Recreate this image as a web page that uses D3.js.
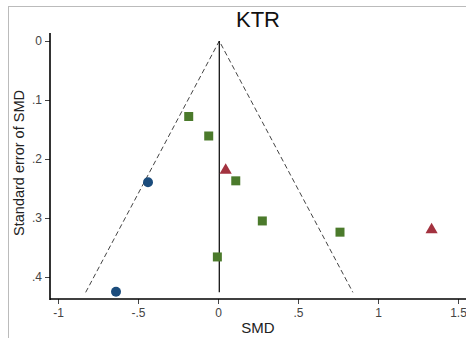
<!DOCTYPE html>
<html><head><meta charset="utf-8">
<script src="https://cdn.jsdelivr.net/npm/d3@7"></script>
<style>body{margin:0;background:#fff}svg{display:block}text{font-family:"Liberation Sans",Arial,sans-serif}</style>
</head><body>
<script>
const title = "KTR";
const xTicks = [-1, -0.5, 0, 0.5, 1, 1.5];
const xTickLabels = ["-1", "-.5", "0", ".5", "1", "1.5"];
const yTicks = [0, 0.1, 0.2, 0.3, 0.4];
const yTickLabels = ["0", ".1", ".2", ".3", ".4"];
const pooled = 0.008;
const maxSE = 0.426;
const squaresSMD = [-0.183, -0.058, 0.111, 0.277, 0.7625, -0.004];
const squaresSE  = [0.128, 0.161, 0.237, 0.305, 0.324, 0.366];
const trianglesSMD = [0.048, 1.335];
const trianglesSE  = [0.219, 0.320];
const circlesSMD = [-0.4375, -0.6375];
const circlesSE  = [0.2395, 0.425];

const W = 466, H = 338;
const svg = d3.select("body").append("svg").attr("width", W).attr("height", H);

// outer frame
svg.append("line").attr("x1", 8).attr("x2", W).attr("y1", 6.5).attr("y2", 6.5).attr("stroke", "#bbb");
svg.append("line").attr("x1", 8.5).attr("x2", 8.5).attr("y1", 6).attr("y2", H).attr("stroke", "#bbb");

const x = d3.scaleLinear().domain([0, 1]).range([218, 378]);
const y = d3.scaleLinear().domain([0, 0.1]).range([41, 100]);

// x axis
const gx = svg.append("g").attr("transform", "translate(0,299)")
  .call(d3.axisBottom(x).tickValues(xTicks).tickFormat((d, i) => xTickLabels[i]).tickSize(5).tickSizeOuter(0));
gx.select(".domain").remove();
gx.append("line").attr("x1", 50).attr("x2", W).attr("stroke", "#000").attr("stroke-width", 1.6);
gx.selectAll(".tick line").attr("stroke", "#444");
gx.selectAll(".tick text").attr("font-size", 12).attr("fill", "#444").attr("dy", "0.8em");

// y axis
const gy = svg.append("g").attr("transform", "translate(50,0)")
  .call(d3.axisLeft(y).tickValues(yTicks).tickFormat((d, i) => yTickLabels[i]).tickSize(5).tickSizeOuter(0));
gy.select(".domain").remove();
gy.append("line").attr("y1", 33).attr("y2", 300).attr("stroke", "#000").attr("stroke-width", 1.6);
gy.selectAll(".tick line").attr("stroke", "#444");
gy.selectAll(".tick text").attr("font-size", 12).attr("fill", "#444");

// funnel
const funnel = [[pooled - 1.96 * maxSE, maxSE], [pooled, 0], [pooled + 1.96 * maxSE, maxSE]];
svg.append("path")
  .attr("d", d3.line().x(d => x(d[0])).y(d => y(d[1]))(funnel))
  .attr("fill", "none").attr("stroke", "#444").attr("stroke-width", 1).attr("stroke-dasharray", "5,3");
svg.append("line").attr("x1", x(pooled)).attr("x2", x(pooled)).attr("y1", y(0)).attr("y2", y(maxSE))
  .attr("stroke", "#000").attr("stroke-width", 1.2);

// points
const sq = d3.symbol().type(d3.symbolSquare).size(81);
svg.selectAll(".sq").data(squaresSMD).enter().append("path")
  .attr("d", sq).attr("transform", (d, i) => `translate(${x(d)},${y(squaresSE[i])})`)
  .attr("fill", "#4b7a2b");
const tri = d3.symbol().type(d3.symbolTriangle).size(64);
svg.selectAll(".tri").data(trianglesSMD).enter().append("path")
  .attr("d", tri).attr("transform", (d, i) => `translate(${x(d)},${y(trianglesSE[i])})`)
  .attr("fill", "#a3323f");
svg.selectAll(".ci").data(circlesSMD).enter().append("circle")
  .attr("cx", d => x(d)).attr("cy", (d, i) => y(circlesSE[i])).attr("r", 5)
  .attr("fill", "#1b4c7c");

// labels
svg.append("text").attr("x", 258).attr("y", 27).attr("text-anchor", "middle").attr("font-size", 22).attr("fill", "#111").text(title);
svg.append("text").attr("x", 258).attr("y", 333).attr("text-anchor", "middle").attr("font-size", 15).attr("fill", "#222").text("SMD");
svg.append("text").attr("transform", "translate(23.5,163) rotate(-90)").attr("text-anchor", "middle").attr("font-size", 14.5).attr("fill", "#222").text("Standard error of SMD");
</script>
</body></html>
